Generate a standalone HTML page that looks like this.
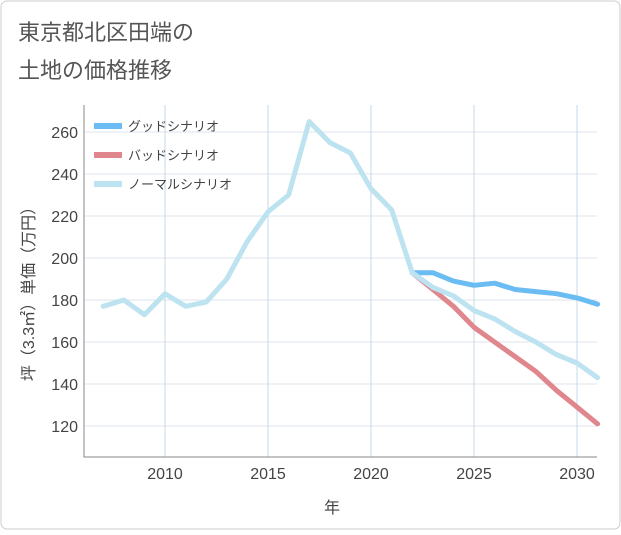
<!DOCTYPE html>
<html><head><meta charset="utf-8">
<style>
body{margin:0;background:#fff;}
#wrap{position:relative;width:621px;height:530px;font-family:"Liberation Sans","Noto Sans CJK JP",sans-serif;}
</style></head>
<body>
<div id="wrap">
<svg id="chart" width="621" height="530" xmlns="http://www.w3.org/2000/svg">
<rect x="1" y="1" width="619" height="528" rx="6" fill="#fff" stroke="#ccc"/>
<text x="18" y="40" font-size="22" fill="#555" font-family="Liberation Sans, Noto Sans CJK JP, sans-serif">東京都北区田端の</text>
<text x="18" y="78" font-size="22" fill="#555" font-family="Liberation Sans, Noto Sans CJK JP, sans-serif">土地の価格推移</text>
<g id="grid"></g>
<g id="axes"></g>
<g id="series"></g>
<g id="legend"></g>
<text x="332" y="513" font-size="16" fill="#444" text-anchor="middle" font-family="Liberation Sans, Noto Sans CJK JP, sans-serif">年</text>
<text transform="translate(34,290) rotate(-90)" font-size="16" fill="#444" text-anchor="middle" font-family="Liberation Sans, Noto Sans CJK JP, sans-serif">坪（3.3㎡）単価（万円）</text>
</svg>
</div>
<script>
const years=[2007,2008,2009,2010,2011,2012,2013,2014,2015,2016,2017,2018,2019,2020,2021,2022,2023,2024,2025,2026,2027,2028,2029,2030,2031];
const normalValues=[177,180,173,183,177,179,190,208,222,230,265,255,250,233,223,193,186,182,175,171,165,160,154,150,143];
const futureYears=[2022,2023,2024,2025,2026,2027,2028,2029,2030,2031];
const goodValues=[193,193,189,187,188,185,184,183,181,178];
const badValues=[193,185,177,167,160,153,146,137,129,121];
const xTicks=[2010,2015,2020,2025,2030];
const yTicks=[120,140,160,180,200,220,240,260];
const seriesNames=["グッドシナリオ","バッドシナリオ","ノーマルシナリオ"];
const seriesColors=["#6bbcf2","#e0868d","#bde3f0"];

const L=84,R=597,T=105,B=457;
const x=v=>165+(v-2010)*20.6;
const y=v=>132+(260-v)*2.1;
const NS="http://www.w3.org/2000/svg";
function mk(tag,attrs,parent){const e=document.createElementNS(NS,tag);for(const k in attrs)e.setAttribute(k,attrs[k]);parent.appendChild(e);return e;}
const grid=document.getElementById('grid'),axes=document.getElementById('axes'),ser=document.getElementById('series'),leg=document.getElementById('legend');
yTicks.forEach(t=>{
 const l=mk('line',{x1:L,x2:R,y1:y(t),y2:y(t),stroke:'#dde6ee','stroke-width':1},grid);
 
 
 const tx=mk('text',{x:L-6,y:y(t)+6,'font-size':16,fill:'#444','text-anchor':'end'},axes);
 tx.textContent=t;
 
 
});
xTicks.forEach(t=>{
 const l=mk('line',{x1:x(t),x2:x(t),y1:T,y2:B,stroke:'#c5d8e8','stroke-width':1},grid);
 
 
 const tx=mk('text',{x:x(t),y:B+22,'font-size':16,fill:'#444','text-anchor':'middle'},axes);
 tx.textContent=t;
 
 
});
const ax=mk('path',{d:`M${L} ${T} V${B} H${R}`,fill:'none',stroke:'#888','stroke-width':1},axes);


function line(xs,vs,color,name){
 const d=xs.map((v,i)=>(i?'L':'M')+x(v).toFixed(1)+' '+y(vs[i]).toFixed(1)).join(' ');
 const p=mk('path',{d,fill:'none',stroke:color,'stroke-width':5,'stroke-linejoin':'round','stroke-linecap':'round'},ser);
 
 
}
line(futureYears,goodValues,seriesColors[0],'good-scenario-line');
line(futureYears,badValues,seriesColors[1],'bad-scenario-line');
line(years,normalValues,seriesColors[2],'normal-scenario-line');
seriesNames.forEach((n,i)=>{
 const yy=126+i*29;
 const l=mk('line',{x1:94,x2:122,y1:yy,y2:yy,stroke:seriesColors[i],'stroke-width':6},leg);
 
 
 const t=mk('text',{x:128,y:yy+5,'font-size':13,fill:'#444'},leg);
 t.textContent=n;
 
 
});
</script>
</body></html>
